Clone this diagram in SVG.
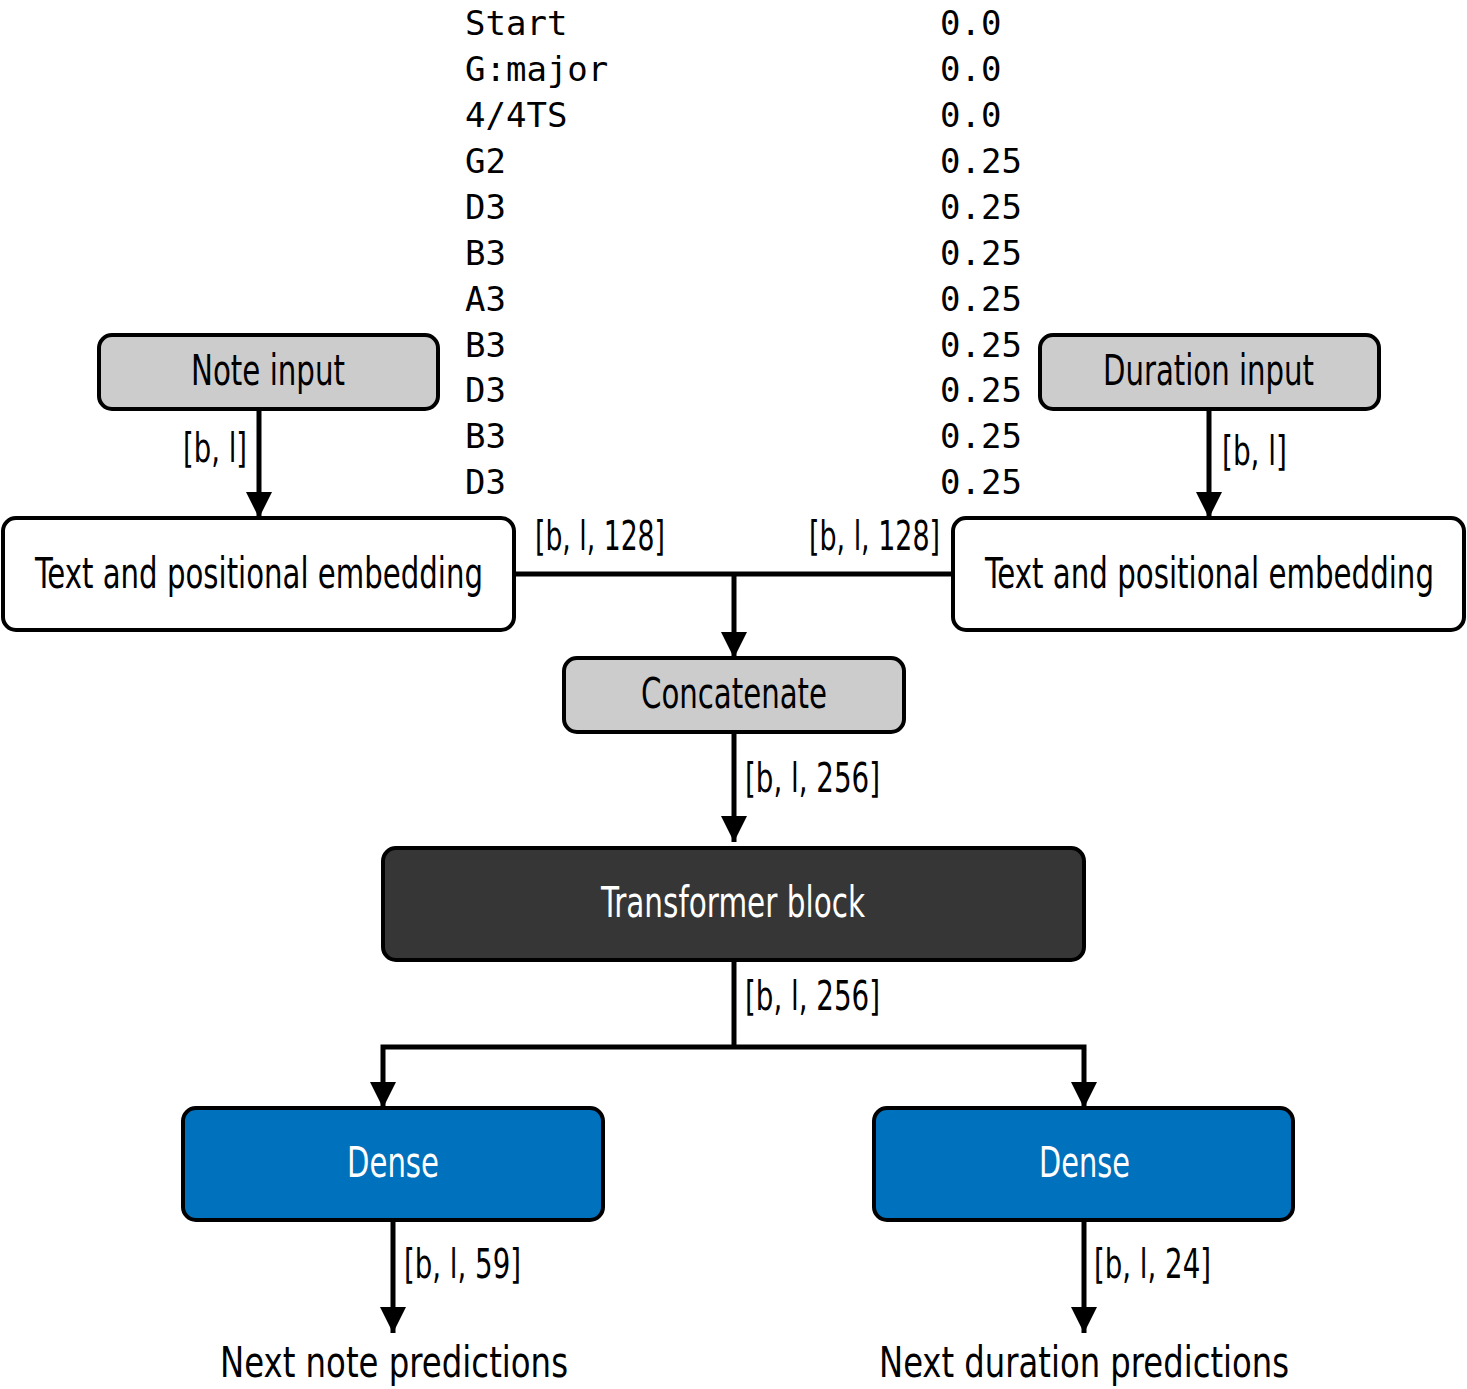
<svg xmlns="http://www.w3.org/2000/svg" width="1467" height="1389" viewBox="0 0 1467 1389">
<defs>
<marker id="ah" markerUnits="userSpaceOnUse" markerWidth="28" markerHeight="28" refX="26" refY="13" orient="auto" viewBox="0 0 28 28">
<path d="M0,0 L26,13 L0,26 z" fill="#000"/>
</marker>
<style>
.box{stroke:#000;stroke-width:4}
.grey{fill:#cccccc}
.white{fill:#ffffff}
.dark{fill:#353635}
.blue{fill:#0071bc}
.t{font-family:"Liberation Sans Narrow","DejaVu Sans Condensed","Liberation Sans",sans-serif;font-size:42px;fill:#000}
.lbl{font-family:"Liberation Sans Narrow","DejaVu Sans Condensed","Liberation Sans",sans-serif;font-size:40px;fill:#000}
.w{fill:#fff}
.mono{font-family:"DejaVu Sans Mono","Liberation Mono",monospace;font-size:34px;fill:#000}
.c{fill:none;stroke:#000;stroke-width:5}
.ca{fill:none;stroke:#000;stroke-width:5;marker-end:url(#ah)}
</style>
</defs>
<rect width="1467" height="1389" fill="#fff"/>

<g id="sequence">
<text class="mono" x="465" y="35">Start</text>
<text class="mono" x="465" y="81">G:major</text>
<text class="mono" x="465" y="127">4/4TS</text>
<text class="mono" x="465" y="173">G2</text>
<text class="mono" x="465" y="219">D3</text>
<text class="mono" x="465" y="265">B3</text>
<text class="mono" x="465" y="311">A3</text>
<text class="mono" x="465" y="357">B3</text>
<text class="mono" x="465" y="402">D3</text>
<text class="mono" x="465" y="448">B3</text>
<text class="mono" x="465" y="494">D3</text>
<text class="mono" x="940" y="35">0.0</text>
<text class="mono" x="940" y="81">0.0</text>
<text class="mono" x="940" y="127">0.0</text>
<text class="mono" x="940" y="173">0.25</text>
<text class="mono" x="940" y="219">0.25</text>
<text class="mono" x="940" y="265">0.25</text>
<text class="mono" x="940" y="311">0.25</text>
<text class="mono" x="940" y="357">0.25</text>
<text class="mono" x="940" y="402">0.25</text>
<text class="mono" x="940" y="448">0.25</text>
<text class="mono" x="940" y="494">0.25</text>
</g>

<g id="connectors">
<line class="ca" x1="259" y1="409" x2="259" y2="518"/>
<line class="ca" x1="1209" y1="409" x2="1209" y2="518"/>
<line class="c" x1="514" y1="574" x2="953" y2="574"/>
<line class="ca" x1="734" y1="574" x2="734" y2="658"/>
<line class="ca" x1="734" y1="732" x2="734" y2="842"/>
<polyline class="c" points="734,962 734,1047"/>
<polyline class="ca" points="734,1047 383,1047 383,1108"/>
<polyline class="ca" points="734,1047 1084,1047 1084,1108"/>
<line class="ca" x1="393" y1="1220" x2="393" y2="1333"/>
<line class="ca" x1="1084" y1="1220" x2="1084" y2="1333"/>
<text class="lbl" x="183" y="462" textLength="64" lengthAdjust="spacingAndGlyphs">[b, l]</text>
<text class="lbl" x="1222" y="465" textLength="65" lengthAdjust="spacingAndGlyphs">[b, l]</text>
<text class="lbl" x="535" y="550" textLength="130" lengthAdjust="spacingAndGlyphs">[b, l, 128]</text>
<text class="lbl" x="809" y="550" textLength="131" lengthAdjust="spacingAndGlyphs">[b, l, 128]</text>
<text class="lbl" x="745" y="792" textLength="135" lengthAdjust="spacingAndGlyphs">[b, l, 256]</text>
<text class="lbl" x="745" y="1010" textLength="135" lengthAdjust="spacingAndGlyphs">[b, l, 256]</text>
<text class="lbl" x="404" y="1278" textLength="117" lengthAdjust="spacingAndGlyphs">[b, l, 59]</text>
<text class="lbl" x="1094" y="1278" textLength="117" lengthAdjust="spacingAndGlyphs">[b, l, 24]</text>
</g>

<g id="note-input">
<rect class="box grey" x="99" y="335" width="339" height="74" rx="13"/>
<text class="t" x="191" y="385" textLength="154" lengthAdjust="spacingAndGlyphs">Note input</text>
</g>
<g id="duration-input">
<rect class="box grey" x="1040" y="335" width="339" height="74" rx="13"/>
<text class="t" x="1103" y="385" textLength="211" lengthAdjust="spacingAndGlyphs">Duration input</text>
</g>
<g id="note-embedding">
<rect class="box white" x="3" y="518" width="511" height="112" rx="13"/>
<text class="t" x="35" y="588" textLength="448" lengthAdjust="spacingAndGlyphs">Text and positional embedding</text>
</g>
<g id="duration-embedding">
<rect class="box white" x="953" y="518" width="511" height="112" rx="13"/>
<text class="t" x="985" y="588" textLength="449" lengthAdjust="spacingAndGlyphs">Text and positional embedding</text>
</g>
<g id="concatenate">
<rect class="box grey" x="564" y="658" width="340" height="74" rx="13"/>
<text class="t" x="641" y="708" textLength="186" lengthAdjust="spacingAndGlyphs">Concatenate</text>
</g>
<g id="transformer">
<rect class="box dark" x="383" y="848" width="701" height="112" rx="13"/>
<text class="t w" x="601" y="917" textLength="264" lengthAdjust="spacingAndGlyphs">Transformer block</text>
</g>
<g id="dense-note">
<rect class="box blue" x="183" y="1108" width="420" height="112" rx="13"/>
<text class="t w" x="347" y="1177" textLength="92" lengthAdjust="spacingAndGlyphs">Dense</text>
</g>
<g id="dense-duration">
<rect class="box blue" x="874" y="1108" width="419" height="112" rx="13"/>
<text class="t w" x="1039" y="1177" textLength="91" lengthAdjust="spacingAndGlyphs">Dense</text>
</g>
<g id="note-output">
<text class="t" x="220" y="1377" textLength="348" lengthAdjust="spacingAndGlyphs">Next note predictions</text>
</g>
<g id="duration-output">
<text class="t" x="879" y="1377" textLength="410" lengthAdjust="spacingAndGlyphs">Next duration predictions</text>
</g>
</svg>
